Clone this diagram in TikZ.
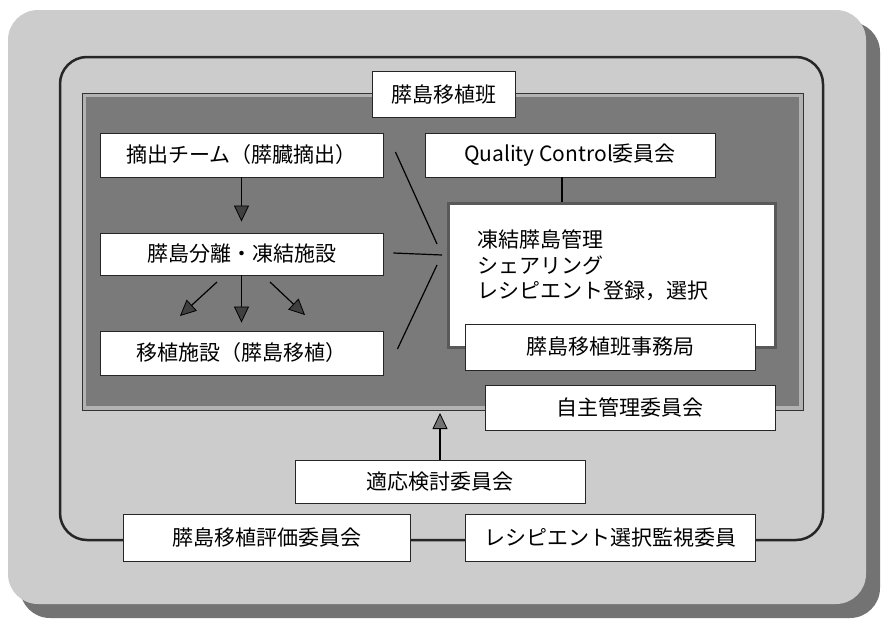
\documentclass[tikz,border=0pt]{standalone}
\usepackage{fontspec}
\setmainfont{Noto Sans CJK JP}
\usetikzlibrary{arrows.meta}
\colorlet{tipgray}{black!55}
\colorlet{tipdark}{black!75}
\begin{document}
\begin{tikzpicture}[x=1pt,y=-1pt,
  txt/.style={font=\fontsize{21}{25.5}\selectfont},
  box/.style={txt, draw=black!85, line width=0.9pt, fill=white, inner sep=0pt},
  conn/.style={black, line width=1.2pt},
  arr/.style={conn, -{Triangle[length=16pt,width=15pt,fill=tipgray,line width=0.8pt]}},
  darr/.style={conn, -{Triangle[length=16pt,width=15pt,fill=tipdark,line width=0.8pt]}},
]
\useasboundingbox (0,0) rectangle (885,621);
% outer panel with shadow
\fill[black!55, rounded corners=30pt] (20,22) rectangle (880,618);
\fill[black!20, rounded corners=30pt] (8,10) rectangle (866,604);
% inner rounded frame
\draw[line width=2.5pt, black!85, rounded corners=27pt] (60,57) rectangle (823,540);
% dark panel
\draw[fill=black!52, draw=black!30, line width=4pt] (84,95) rectangle (801,408);
\draw[black!80, line width=1pt] (82,93) rectangle (803,410);

\node[box, minimum width=143pt, minimum height=46pt] (label) at (443.5,94) {膵島移植班};

\node[box, minimum width=283pt, minimum height=44pt] (b1) at (241.5,155) {摘出チーム（膵臓摘出）};
\node[box, minimum width=283pt, minimum height=42pt] (b2) at (241.5,254) {膵島分離・凍結施設};
\node[box, minimum width=283pt, minimum height=44pt] (b3) at (241.5,353) {移植施設（膵島移植）};

\node[box, minimum width=290pt, minimum height=44pt] (qc) at (570,155) {Quality Control委員会};

% arrows between left boxes
\draw[darr, shorten >=11pt] (b1.south) -- (b2.north);
\draw[darr, shorten >=8pt] (b2.south) -- (b3.north);
\coordinate (l1) at (217,282);
\coordinate (l2) at (180,316);
\coordinate (r1) at (270,282);
\coordinate (r2) at (305,315);
\draw[darr] (l1) -- (l2);
\draw[darr] (r1) -- (r2);

% converging lines
\coordinate (m1) at (437,244);
\coordinate (m2) at (442,255);
\coordinate (m3) at (437,265);
\draw[conn] ([xshift=12pt,yshift=3pt]b1.east) -- (m1);
\draw[conn] ([xshift=10pt,yshift=1pt]b2.east) -- (m2);
\draw[conn] ([xshift=14pt,yshift=4pt]b3.east) -- (m3);

% big management box
\node[draw=black!65, line width=3pt, fill=white, minimum width=327pt, minimum height=144pt, inner sep=0pt] (big) at (611.5,275) {};
\draw[conn] ([xshift=-8pt]qc.south) -- ([xshift=-8pt]qc.south |- big.north);
\node[txt, anchor=north west, align=left, inner sep=0pt] (bigtext) at (477,230) {凍結膵島管理\\シェアリング\\レシピエント登録，選択};

\node[box, minimum width=290pt, minimum height=46pt] (office) at (610,347) {膵島移植班事務局};
\node[box, minimum width=290pt, minimum height=45pt] (self) at (630,407.5) {自主管理委員会};

% lower part
\node[box, minimum width=290pt, minimum height=43pt] (adapt) at (440,481.5) {適応検討委員会};
\coordinate (tip) at (440,413);
\draw[arr] (adapt.north) -- (tip);

\node[box, minimum width=287pt, minimum height=47pt] (eval) at (266.5,537.5) {膵島移植評価委員会};
\node[box, minimum width=290pt, minimum height=47pt] (monitor) at (610,537.5) {レシピエント選択監視委員};
\end{tikzpicture}
\end{document}
